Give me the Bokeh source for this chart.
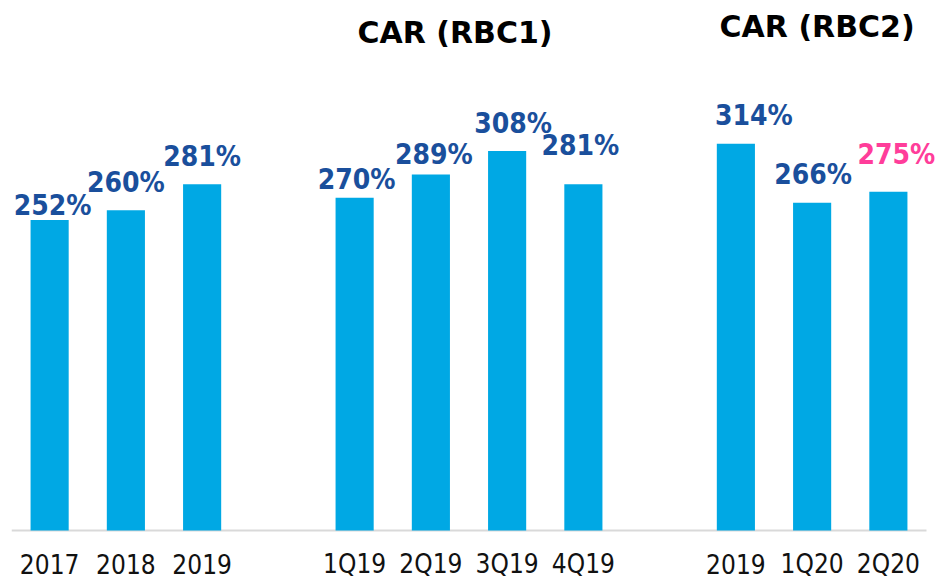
from bokeh.plotting import figure
from bokeh.models import ColumnDataSource, Range1d, Label
from bokeh.core.properties import value
from bokeh.embed import file_html
from bokeh.resources import INLINE

# ---- data ----
cats_annual = ["2017", "2018", "2019"]
cats_rbc1 = ["1Q19", "2Q19", "3Q19", "4Q19"]
cats_rbc2 = ["2019", "1Q20", "2Q20"]
vals_annual = [252, 260, 281]
vals_rbc1 = [270, 289, 308, 281]
vals_rbc2 = [314, 266, 275]
group_titles = ["", "CAR (RBC1)", "CAR (RBC2)"]

# ---- styling ----
BAR = "#00A8E4"
BLUE = "#1A4F9C"
PINK = "#FF3D9A"
COND = "DejaVu Sans Condensed"
SHIFT = -11  # baseline correction for text rendering

groups = [(cats_annual, vals_annual), (cats_rbc1, vals_rbc1), (cats_rbc2, vals_rbc2)]
xs, cats, vals, centers = [], [], [], []
pos = 0
for cs, vs in groups:
    start = pos
    for c, v in zip(cs, vs):
        xs.append(pos); cats.append(c); vals.append(v)
        pos += 1
    centers.append((start + pos - 1) / 2)
    pos += 1  # gap slot between groups

labels = [f"{v}%" for v in vals]
colors = [BLUE] * (len(vals) - 1) + [PINK]
# per-label nudges (screen px) as in the original layout
label_dx = [3, 0, 0, 2, 3, 6, -3, 18, 1, 8]
label_dy = [d + SHIFT for d in [-4, -17, -17, -7, -9, -17, -28, -17, -17, -26]]

src = ColumnDataSource(dict(x=xs, top=vals, label=labels, color=colors,
                            dx=label_dx, dy=label_dy, cat=cats, zero=[0] * len(xs)))

x0, x1 = xs[0] - 0.5, xs[-1] + 0.5
p = figure(width=944, height=579, output_backend="svg", toolbar_location=None,
           x_axis_location=None, y_axis_location=None,
           x_range=Range1d(x0, x1 + 18 / 76.25), y_range=Range1d(-39.8, 430.2),
           min_border_left=11, min_border_right=0, min_border_top=0, min_border_bottom=0)
p.outline_line_color = None
p.xgrid.visible = False
p.ygrid.visible = False
p.background_fill_color = "white"

# category axis baseline
p.segment(x0=[x0], y0=[0], x1=[x1], y1=[0], line_color="#D9D9D9", line_width=2)

p.vbar(x="x", top="top", bottom=0, width=0.5, source=src, fill_color=BAR, line_color=None)

p.text(x="x", y="top", text="label", source=src, x_offset="dx", y_offset="dy",
       text_align="center", text_baseline="alphabetic", text_color="color",
       text_font=value(COND), text_font_style="bold", text_font_size="28px")

p.text(x="x", y="zero", text="cat", source=src, y_offset=45 + SHIFT,
       text_align="center", text_baseline="alphabetic", text_color="#111111",
       text_font=value(COND), text_font_size="26px")

title_y = [0, 404.2, 409.1]
title_dx = [0, -14, 5]
for t, cx, ty, tdx in zip(group_titles, centers, title_y, title_dx):
    if t:
        p.add_layout(Label(x=cx, y=ty, text=t, x_offset=tdx, text_align="center",
                           text_baseline="alphabetic", text_font="DejaVu Sans",
                           text_font_style="bold", text_font_size="30px", text_color="#000000"))

open("out.html", "w").write(file_html(p, INLINE))
